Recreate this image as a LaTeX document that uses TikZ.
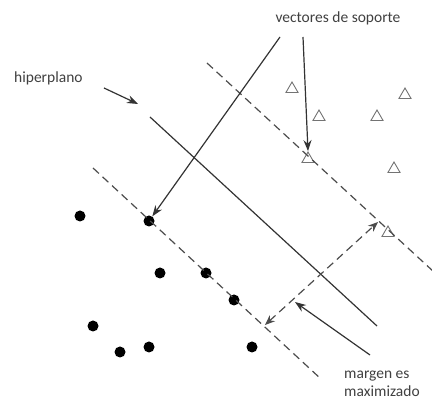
\documentclass[tikz,border=0pt]{standalone}
\usepackage{fontspec}
\setmainfont{Carlito}
\usetikzlibrary{shapes.geometric,arrows.meta}
\begin{document}
\begin{tikzpicture}[x=1pt,y=-1pt,
  dotnode/.style={circle,fill=black,inner sep=0pt,minimum size=11pt},
  trinode/.style={regular polygon,regular polygon sides=3,draw=black!55,line width=0.9pt,inner sep=0pt,minimum size=14pt},
  solidline/.style={draw=black!80,line width=1.2pt},
  dashline/.style={draw=black!70,line width=1.2pt,dash pattern=on 8pt off 5pt},
  pointer/.style={draw=black!80,line width=1.2pt,-{Stealth[length=11pt,width=8pt]}},
  lbl/.style={font=\fontsize{15.5}{18}\selectfont,text=black!75,inner sep=0pt}]
\useasboundingbox (0,0) rectangle (432,401);
% labels
\node[lbl,anchor=west] (hyp) at (14,78) {hiperplano};
\node[lbl] (vs) at (338,18) {vectores de soporte};
\node[lbl,anchor=west,align=left] (mm) at (344,384) {margen es\\maximizado};
% triangles
\node[trinode] (t1) at (292,89) {};
\node[trinode] (t2) at (405,95) {};
\node[trinode] (t3) at (319,117) {};
\node[trinode] (t4) at (377,117) {};
\node[trinode] (t5) at (308,159) {};
\node[trinode] (t6) at (394,169) {};
\node[trinode] (t7) at (388,233) {};
% dots
\node[dotnode] (d1) at (80,216) {};
\node[dotnode] (d2) at (149,221) {};
\node[dotnode] (d3) at (160,273) {};
\node[dotnode] (d4) at (206,273) {};
\node[dotnode] (d5) at (234,300) {};
\node[dotnode] (d6) at (93,326) {};
\node[dotnode] (d7) at (120,352) {};
\node[dotnode] (d8) at (149,347) {};
\node[dotnode] (d9) at (252,347) {};
% line end points
\coordinate (h1) at (150,117);
\coordinate (h2) at (377,326);
\coordinate (u1) at (207,63);
\coordinate (u2) at (434,272);
\coordinate (l1) at (93,168);
\coordinate (l2) at (321,379);
\coordinate (m1) at (265,325);
\coordinate (m2) at (378,222);
\coordinate (s1) at (280,37);
\coordinate (s2) at (303,37);
\coordinate (hp1) at (104,88);
\coordinate (hp2) at (138,104);
\coordinate (mp1) at (370,355);
\coordinate (mp2) at (295,302);
% lines
\draw[solidline] (h1) -- (h2);
\draw[dashline] (u1) -- (u2);
\draw[dashline] (l1) -- (l2);
\draw[dashline,{Stealth[length=10pt,width=8pt]}-{Stealth[length=10pt,width=8pt]}] (m1) -- (m2);
% pointers
\draw[pointer] (s1) -- (d2);
\draw[pointer] (s2) -- (t5.north);
\draw[pointer] (hp1) -- (hp2);
\draw[pointer] (mp1) -- (mp2);
\end{tikzpicture}
\end{document}
